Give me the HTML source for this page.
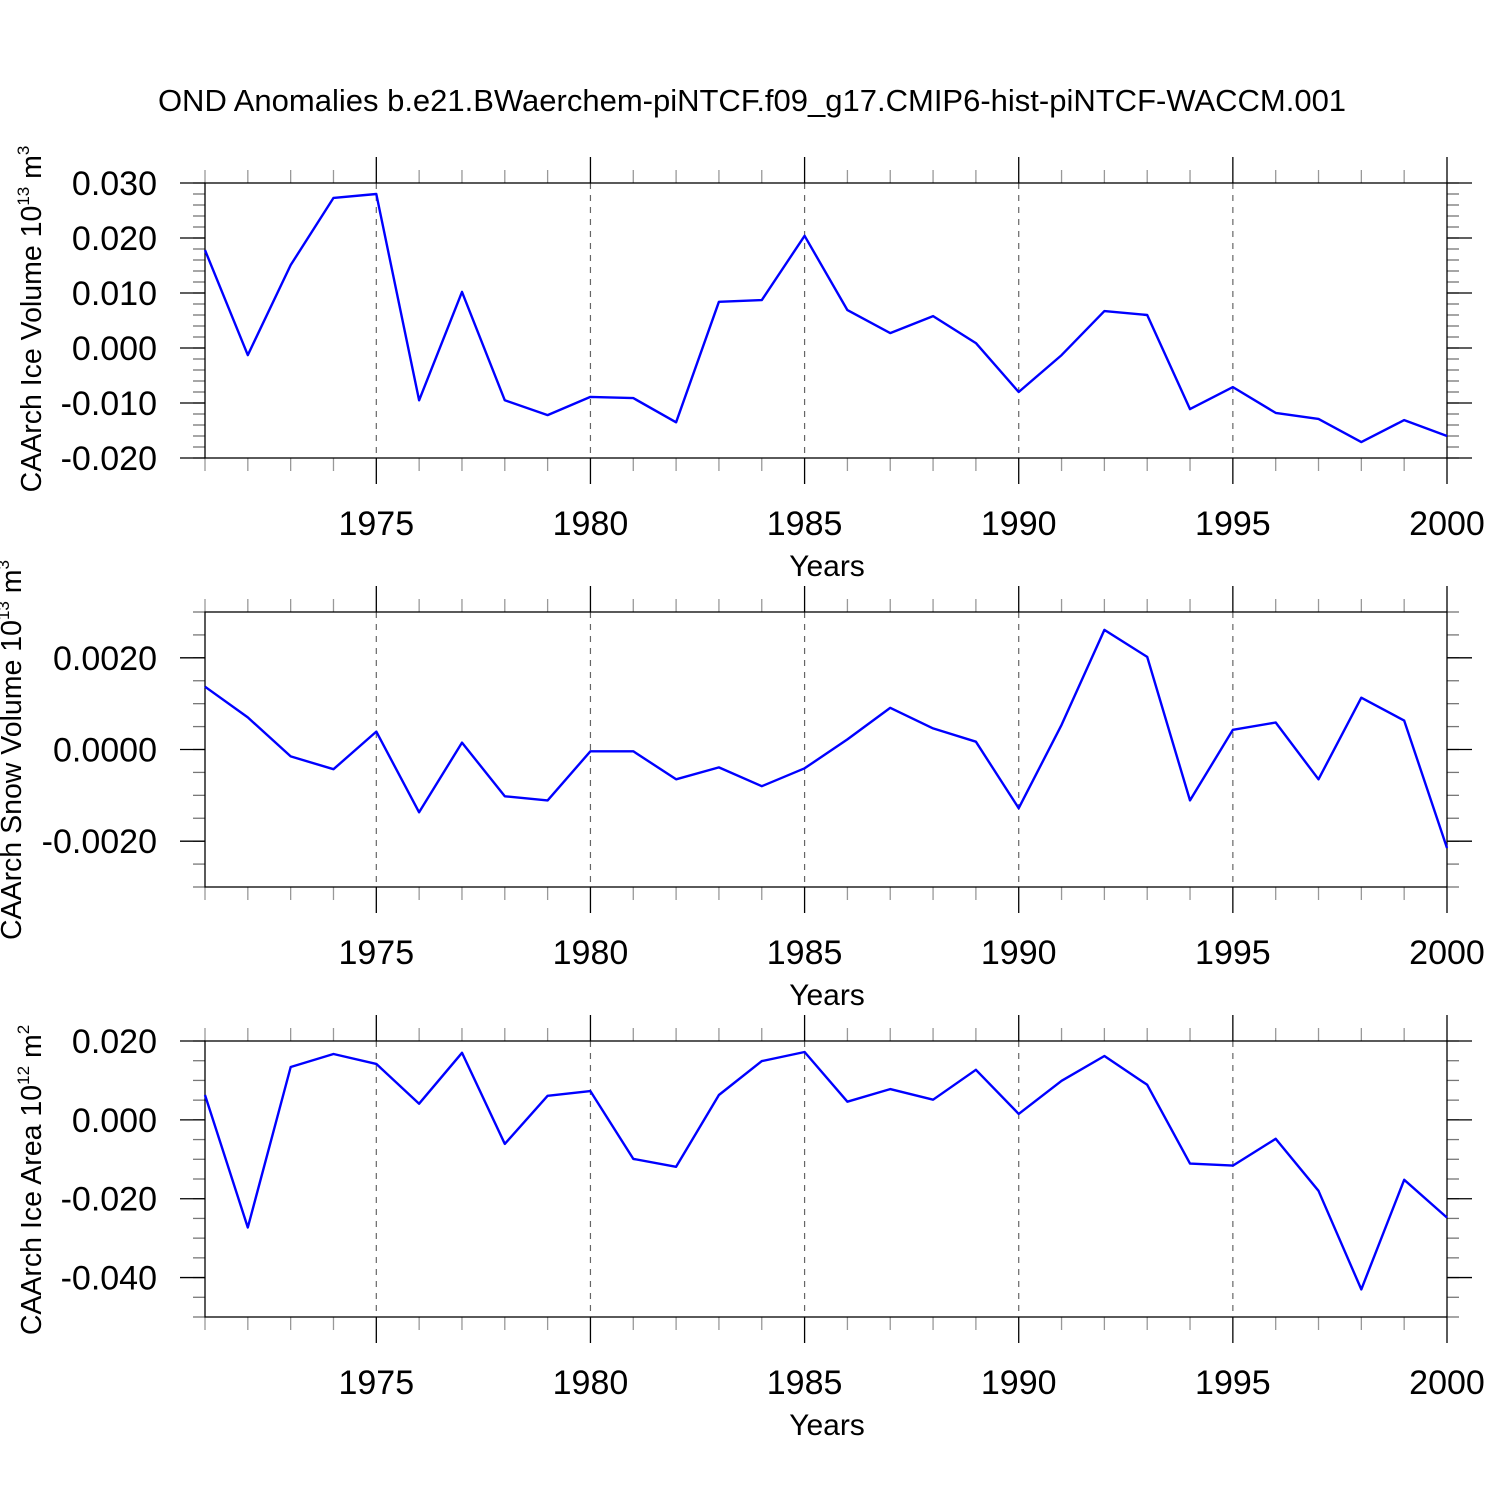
<!DOCTYPE html>
<html><head><meta charset="utf-8"><style>
body{margin:0;background:#fff}
svg{display:block;font-family:"Liberation Sans",sans-serif}
</style></head><body>
<svg id="c" width="1500" height="1500" viewBox="0 0 1500 1500">
<text x="752" y="111" font-size="31" text-anchor="middle">OND Anomalies b.e21.BWaerchem-piNTCF.f09_g17.CMIP6-hist-piNTCF-WACCM.001</text>
</svg>
<script>
const years = [];
for (let y = 1971; y <= 2000; y++) years.push(y);
const iceVolume = [0.0178,-0.0013,0.0151,0.0273,0.0280,-0.0095,0.0102,-0.0095,-0.0122,-0.0089,-0.0091,-0.0135,0.0084,0.0087,0.0204,0.0069,0.0027,0.0058,0.0009,-0.0080,-0.0013,0.0067,0.0060,-0.0111,-0.0071,-0.0118,-0.0129,-0.0171,-0.0131,-0.0160];
const snowVolume = [0.00137,0.00070,-0.00015,-0.00043,0.00039,-0.00137,0.00015,-0.00102,-0.00111,-0.00004,-0.00004,-0.00065,-0.00039,-0.00080,-0.00041,0.00022,0.00091,0.00046,0.00017,-0.00128,0.00054,0.00261,0.00202,-0.00111,0.00043,0.00059,-0.00065,0.00113,0.00063,-0.00215];
const iceArea = [0.0063,-0.0273,0.0134,0.0167,0.0142,0.0041,0.0170,-0.0061,0.0061,0.0073,-0.0099,-0.0119,0.0063,0.0149,0.0172,0.0046,0.0078,0.0051,0.0127,0.0015,0.0099,0.0162,0.0089,-0.0111,-0.0116,-0.0048,-0.0180,-0.0430,-0.0152,-0.0248];
const xTickLabels = ["1975","1980","1985","1990","1995","2000"];
const iceVolTicks = ["0.030","0.020","0.010","0.000","-0.010","-0.020"];
const snowTicks = ["0.0020","0.0000","-0.0020"];
const areaTicks = ["0.020","0.000","-0.020","-0.040"];

const svg = document.getElementById('c');
const NS = 'http://www.w3.org/2000/svg';
function mk(tag, attrs, parent) {
  const e = document.createElementNS(NS, tag);
  for (const k in attrs) e.setAttribute(k, attrs[k]);
  (parent || svg).appendChild(e);
  return e;
}
const X0 = 205, X1 = 1447;
const xs = yr => X0 + (yr - 1971) * (X1 - X0) / 29;

const panels = [
  {name:'ice-volume', data: iceVolume, ticks: iceVolTicks, top:183, bot:458, vmin:-0.02, vmax:0.03, minor:0.002, title:'CAArch Ice Volume 10', sup:'13', unit:' m', usup:'3', tx:41, ty:319},
  {name:'snow-volume', data: snowVolume, ticks: snowTicks, top:612, bot:887, vmin:-0.003, vmax:0.003, minor:0.0005, title:'CAArch Snow Volume 10', sup:'13', unit:' m', usup:'3', tx:21, ty:750},
  {name:'ice-area', data: iceArea, ticks: areaTicks, top:1041, bot:1317, vmin:-0.05, vmax:0.02, minor:0.005, title:'CAArch Ice Area 10', sup:'12', unit:' m', usup:'2', tx:41, ty:1180}
];

panels.forEach(p => {
  const g = mk('g', {});
  
  
  const ys = v => p.bot - (v - p.vmin) * (p.bot - p.top) / (p.vmax - p.vmin);
  xTickLabels.forEach(l => {
    const yr = +l; if (yr >= 2000) return;
    const gl = mk('line', {x1: xs(yr), x2: xs(yr), y1: p.top, y2: p.bot, stroke:'#666', 'stroke-width':1.2, 'stroke-dasharray':'6,6'}, g);
    
    
  });
  years.forEach(yr => {
    const major = yr % 5 === 0;
    const len = major ? 26 : 13;
    const col = major ? '#000' : '#999';
    mk('line', {x1: xs(yr), x2: xs(yr), y1: p.top - len, y2: p.top, stroke: col, 'stroke-width':1.3}, g);
    mk('line', {x1: xs(yr), x2: xs(yr), y1: p.bot, y2: p.bot + len, stroke: col, 'stroke-width':1.3}, g);
  });
  const n = Math.round((p.vmax - p.vmin) / p.minor);
  for (let i = 0; i <= n; i++) {
    const v = p.vmin + i * p.minor;
    const y = ys(v);
    mk('line', {x1: X0 - 12, x2: X0, y1: y, y2: y, stroke:'#777', 'stroke-width':1.3}, g);
    mk('line', {x1: X1, x2: X1 + 12, y1: y, y2: y, stroke:'#777', 'stroke-width':1.3}, g);
  }
  p.ticks.forEach(t => {
    const y = ys(parseFloat(t));
    mk('line', {x1: X0 - 25, x2: X0, y1: y, y2: y, stroke:'#000', 'stroke-width':1.3}, g);
    mk('line', {x1: X1, x2: X1 + 25, y1: y, y2: y, stroke:'#000', 'stroke-width':1.3}, g);
    const tl = mk('text', {x: 157, y: y + 12, 'font-size': 34, 'text-anchor':'end'}, g);
    tl.textContent = t;
    
    
  });
  const fr = mk('rect', {x: X0, y: p.top, width: X1 - X0, height: p.bot - p.top, fill:'none', stroke:'#000', 'stroke-width':1.3}, g);
  
  
  xTickLabels.forEach(l => {
    const tl = mk('text', {x: xs(+l), y: p.bot + 77, 'font-size': 34, 'text-anchor':'middle'}, g);
    tl.textContent = l;
    
    
  });
  const xt = mk('text', {x: 827, y: p.bot + 118, 'font-size': 30, 'text-anchor':'middle'}, g);
  xt.textContent = 'Years';
  
  
  const yt = mk('text', {x: 0, y: 0, 'font-size': 28.5, 'text-anchor':'middle', transform: `translate(${p.tx},${p.ty}) rotate(-90)`}, g);
  
  
  const s1 = mk('tspan', {}, yt); s1.textContent = p.title;
  const s2 = mk('tspan', {dy: -12, 'font-size': 17}, yt); s2.textContent = p.sup;
  const s3 = mk('tspan', {dy: 12}, yt); s3.textContent = p.unit;
  const s4 = mk('tspan', {dy: -12, 'font-size': 17}, yt); s4.textContent = p.usup;
  const pts = p.data.map((v, i) => xs(years[i]).toFixed(1) + ',' + ys(v).toFixed(1)).join(' ');
  const pl = mk('polyline', {points: pts, fill:'none', stroke:'#0000ff', 'stroke-width':2.4, 'stroke-linejoin':'round'}, g);
  
  
});
</script>
</body></html>
